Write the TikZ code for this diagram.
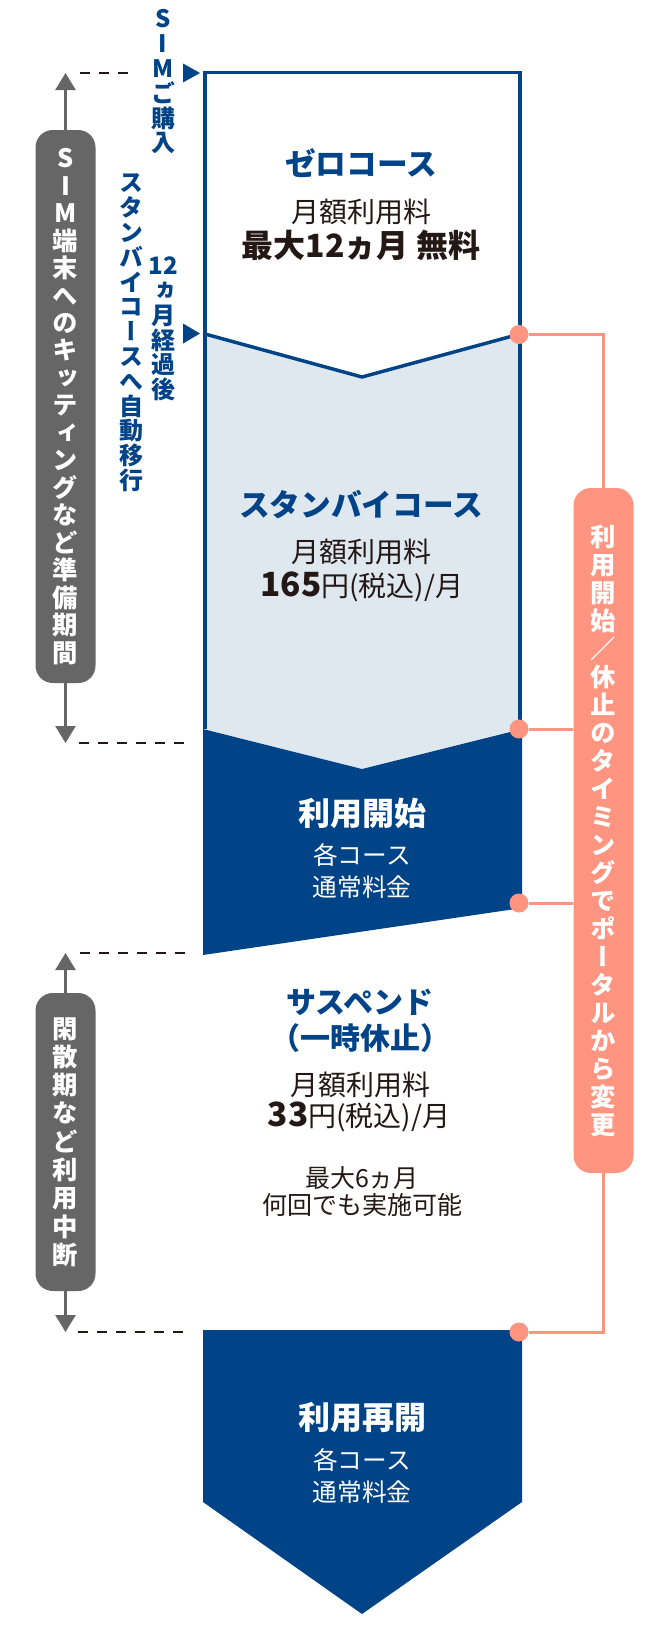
\documentclass[tikz,border=0pt]{standalone}
\usepackage{fontspec}
\usepackage{graphicx}
\setmainfont{Noto Sans CJK JP}
\newfontfamily\vjp[RawFeature=+vert]{Noto Sans CJK JP}
\usetikzlibrary{arrows.meta}
\definecolor{navy}{HTML}{004386}
\definecolor{pale}{HTML}{DFE7EF}
\definecolor{salmon}{HTML}{FF9580}
\definecolor{graypill}{HTML}{666666}
\definecolor{ink}{HTML}{231815}
\newcommand\tightlines{\lineskiplimit=-30pt\relax}
\newcommand\vfontA{\vjp\bfseries\fontsize{18}{18.6}\selectfont\tightlines}
\newcommand\vfontB{\vjp\bfseries\fontsize{19}{20.6}\selectfont\tightlines}
\newcommand\vfontC{\vjp\bfseries\fontsize{19}{21}\selectfont\tightlines}
\newcommand\vfontD{\vjp\bfseries\fontsize{19}{21.2}\selectfont\tightlines}
\tikzset{
  vblue/.style={align=center, inner sep=0pt, text=navy, font=\vfontA},
  gpill/.style={align=center, inner sep=0pt, fill=graypill, text=white,
    rounded corners=13pt, minimum width=45pt, font=\vfontB},
  spill/.style={align=center, inner sep=0pt, fill=salmon, text=white,
    rounded corners=13pt, minimum width=45pt, font=\vfontC},
  dot/.style={circle, fill=salmon, inner sep=0pt, minimum size=14.25pt},
  sline/.style={draw=salmon, line width=2.25pt},
  garrow/.style={draw=graypill, line width=1.9pt, -{Triangle[width=15pt,length=12.75pt]}},
  dashline/.style={draw=ink, line width=1.1pt, dash pattern=on 7.5pt off 6.75pt},
  navyborder/.style={draw=navy, line width=2.6pt},
  ttl/.style={inner sep=0pt, text=navy, font=\bfseries\fontsize{23}{23}\selectfont},
  tbody/.style={inner sep=0pt, text=ink, font=\fontsize{21}{21}\selectfont},
  tbig/.style={inner sep=0pt, text=ink, font=\bfseries\fontsize{24}{24}\selectfont},
  tsmall/.style={inner sep=0pt, text=ink, font=\fontsize{18.75}{18.75}\selectfont},
  wttl/.style={inner sep=0pt, text=white, font=\bfseries\fontsize{24}{24}\selectfont},
  wbody/.style={inner sep=0pt, text=white, font=\fontsize{18.5}{18.5}\selectfont},
  marker/.style={fill=navy}
}
\begin{document}
\begin{tikzpicture}[x=0.75pt,y=-0.75pt]
\useasboundingbox (0,0) rectangle (670,1628);

% main column shapes
\fill[pale] (205,334) -- (362,377) -- (520,334) -- (520,729) -- (362,769) -- (205,729) -- cycle;
\draw[navyborder, line join=miter] (205,729) -- (205,72.5) -- (520,72.5) -- (520,729);
\draw[navyborder, line join=miter] (205,334) -- (362,377) -- (520,334);
\fill[navy] (203,729) -- (362,769) -- (522,729) -- (522,908) -- (203,955) -- cycle;
\fill[navy] (203,1330) -- (522,1330) -- (522,1502) -- (362,1614) -- (203,1502) -- cycle;

% markers
\fill[marker] (183,63.5) -- (200,73) -- (183,82.5) -- cycle;
\fill[marker] (183,323.5) -- (200,333.5) -- (183,343.5) -- cycle;

% vertical blue labels
\node[vblue] (vsim) at (163,82) {S\\I\\M\\ご\\購\\入};
\node[vblue] (v12) at (163,329) {12\\ヵ\\月\\経\\過\\後};
\node[vblue] (vstb) at (131,333) {ス\\タ\\ン\\バ\\イ\\コ\\ー\\ス\\へ\\自\\動\\移\\行};

% gray pills
\node[gpill, minimum height=414.75pt] (g1) at (65.5,406.5)
  {S\\I\\M\\端\\末\\へ\\の\\キ\\ッ\\テ\\ィ\\ン\\グ\\な\\ど\\準\\備\\期\\間};
\node[gpill, minimum height=223.5pt, font=\vfontD] (g2) at (65.5,1142)
  {閑\\散\\期\\な\\ど\\利\\用\\中\\断};

\coordinate (a1) at (65.5,73);
\coordinate (a2) at (65.5,743);
\coordinate (a3) at (65.5,953);
\coordinate (a4) at (65.5,1332);
\draw[garrow] (g1.north) -- (a1);
\draw[garrow] (g1.south) -- (a2);
\draw[garrow] (g2.north) -- (a3);
\draw[garrow] (g2.south) -- (a4);

% dashed guides
\coordinate (d1s) at (80,73);   \coordinate (d1e) at (134,73);
\coordinate (d2s) at (79,743);  \coordinate (d2e) at (192,743);
\coordinate (d3s) at (80,953);  \coordinate (d3e) at (192,953);
\coordinate (d4s) at (78,1332); \coordinate (d4e) at (192,1332);
\draw[dashline] (d1s) -- (d1e);
\draw[dashline] (d2s) -- (d2e);
\draw[dashline] (d3s) -- (d3e);
\draw[dashline] (d4s) -- (d4e);

% salmon pill and connectors
\node[spill, minimum height=513.75pt] (sp) at (603.5,830.5)
  {利\\用\\開\\始\\／\\休\\止\\の\\タ\\イ\\ミ\\ン\\グ\\で\\ポ\\ー\\タ\\ル\\か\\ら\\変\\更};
\node[dot] (c1) at (519,334.5) {};
\node[dot] (c2) at (519,729) {};
\node[dot] (c3) at (519,903) {};
\node[dot] (c4) at (519,1332) {};
\coordinate (k1) at (603.5,334.5);
\coordinate (k4) at (603.5,1332);
\draw[sline] (c1.east) -- (k1) -- (sp.north);
\draw[sline] (c2.east) -- (c2.center -| sp.west);
\draw[sline] (c3.east) -- (c3.center -| sp.west);
\draw[sline] (sp.south) -- (k4) -- (c4.east);

% zero course
\node[ttl] (zt) at (361,163) {ゼロコース};
\node[tbody] (zm) at (361,212) {月額利用料};
\node[tbig] (zf) at (361,245) {最大12ヵ月 無料};

% standby course
\node[ttl] (st) at (361,505) {スタンバイコース};
\node[tbody] (sm) at (361,552) {月額利用料};
\node[tbody] (sf) at (362,587) {{\bfseries\fontsize{25}{25}\selectfont 165}円(税込)/月};

% start of use
\node[wttl] (u1) at (362,813) {利用開始};
\node[wbody] (u2) at (362,855) {各コース};
\node[wbody] (u3) at (362,887) {通常料金};

% suspend
\node[ttl, font=\bfseries\fontsize{22.5}{22.5}\selectfont] (p1) at (360,1002) {サスペンド};
\node[ttl, font=\bfseries\fontsize{22.5}{22.5}\selectfont] (p2) at (360,1038) {（一時休止）};
\node[tbody] (p3) at (360,1085) {月額利用料};
\node[tbody] (p4) at (359,1117) {{\bfseries\fontsize{25}{25}\selectfont 33}円(税込)/月};
\node[tsmall] (p5) at (362,1178) {最大6ヵ月};
\node[tsmall] (p6) at (362,1205) {何回でも実施可能};

% resume
\node[wttl] (r1) at (362,1417) {利用再開};
\node[wbody] (r2) at (362,1460) {各コース};
\node[wbody] (r3) at (362,1492) {通常料金};
\end{tikzpicture}
\end{document}
